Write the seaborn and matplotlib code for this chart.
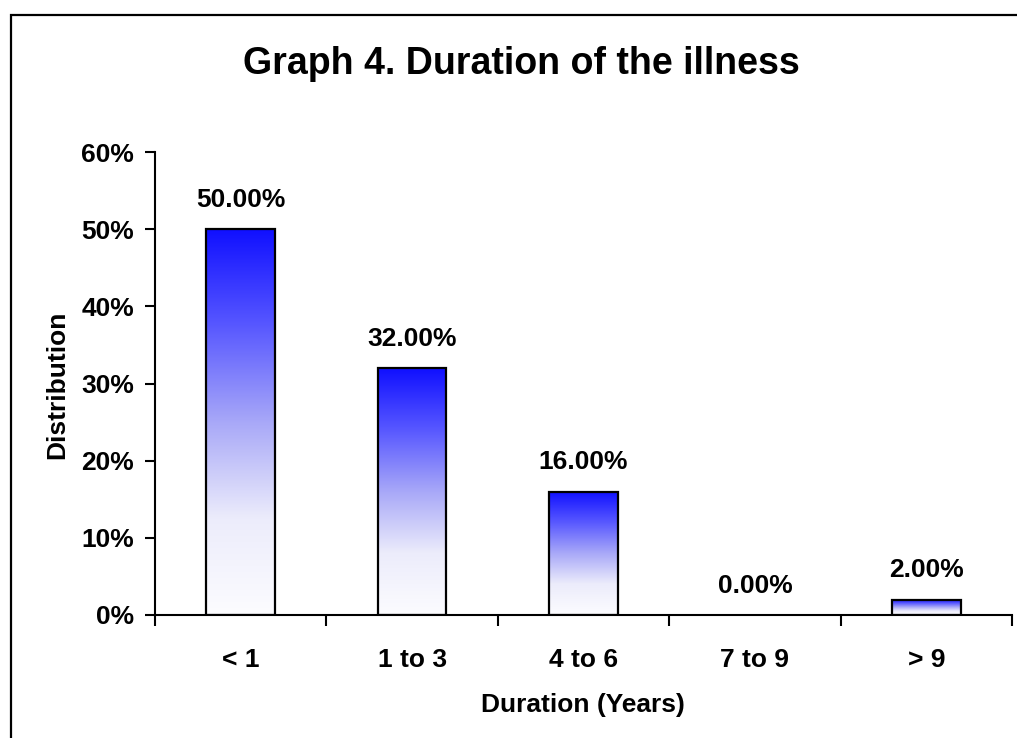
import numpy as np
import pandas as pd
import matplotlib
matplotlib.use("Agg")
import matplotlib.pyplot as plt
import seaborn as sns
from matplotlib.colors import LinearSegmentedColormap
from matplotlib.patches import Rectangle
from matplotlib.ticker import FixedLocator, FuncFormatter

# ---- data ----
categories = ["< 1", "1 to 3", "4 to 6", "7 to 9", "> 9"]
values = [0.50, 0.32, 0.16, 0.00, 0.02]
y_ticks = [0.0, 0.1, 0.2, 0.3, 0.4, 0.5, 0.6]
title = "Graph 4. Duration of the illness"
x_label = "Duration (Years)"
y_label = "Distribution"

sns.set_theme(style="white")
plt.rcParams["font.family"] = ["Liberation Sans", "DejaVu Sans"]
plt.rcParams["font.weight"] = "bold"
plt.rcParams["text.color"] = "black"
plt.rcParams["xtick.color"] = "black"
plt.rcParams["ytick.color"] = "black"
plt.rcParams["axes.labelcolor"] = "black"

W, H = 1017, 738
FS = 19
fig = plt.figure(figsize=(W / 100, H / 100), dpi=100)
ax = fig.add_axes([155 / W, 1 - 615 / H, (1012 - 155) / W, (615 - 152) / H])

df = pd.DataFrame({"cat": categories, "val": values})
sns.barplot(data=df, x="cat", y="val", ax=ax, color="white", edgecolor="black",
            linewidth=1.6, width=0.4, saturation=1)

cmap = LinearSegmentedColormap.from_list(
    "wb", [(0.0, "#fcfcff"), (0.25, "#ececfb"), (0.5, "#a8a8f8"),
           (0.75, "#5858ff"), (1.0, "#1010ff")])
grad = np.linspace(0, 1, 256).reshape(-1, 1)
for p in ax.patches:
    p.set_facecolor("none")
    p.set_zorder(3)
    x0, w, h = p.get_x(), p.get_width(), p.get_height()
    if h > 0:
        ax.imshow(grad, extent=[x0, x0 + w, 0, h], origin="lower", cmap=cmap,
                  aspect="auto", zorder=2, interpolation="bilinear")
    else:
        p.set_edgecolor("none")

ax.set_xlim(-0.5, len(categories) - 0.5)
ax.set_ylim(0, 0.6)

# data labels
for i, v in enumerate(values):
    ax.annotate(f"{v * 100:.2f}%", (i, v), xytext=(0, 21), textcoords="offset points",
                ha="center", va="center", fontsize=FS, fontweight="bold", color="black")

# spines
for s in ["top", "right"]:
    ax.spines[s].set_visible(False)
for s in ["left", "bottom"]:
    ax.spines[s].set_color("black")
    ax.spines[s].set_linewidth(1.5)
    ax.spines[s].set_zorder(4)

# y ticks
ax.yaxis.set_major_locator(FixedLocator(y_ticks))
ax.yaxis.set_major_formatter(FuncFormatter(lambda v, _: f"{v * 100:.0f}%"))
ax.tick_params(axis="y", which="major", direction="out", length=7, width=1.5,
               color="black", labelcolor="black", left=True, labelsize=FS, pad=8)
for t in ax.get_yticklabels():
    t.set_fontweight("bold")

# x ticks: marks at category boundaries, labels at centres
ax.set_xticks(np.arange(len(categories) + 1) - 0.5)
ax.set_xticklabels([""] * (len(categories) + 1))
ax.set_xticks(np.arange(len(categories)), minor=True)
ax.set_xticklabels(categories, minor=True, fontsize=FS, fontweight="bold", color="black")
ax.tick_params(axis="x", which="major", direction="out", length=8, width=1.5,
               color="black", bottom=True)
ax.tick_params(axis="x", which="minor", length=0, pad=24, bottom=True)

ax.set_xlabel("")
ax.set_ylabel("")

fig.text(521 / W, 1 - 74 / H, title, ha="center", va="baseline", fontsize=27,
         fontweight="bold", color="black")
fig.text(583 / W, 1 - 712 / H, x_label, ha="center", va="baseline", fontsize=FS,
         fontweight="bold", color="black")
fig.text(57 / W, 1 - 385 / H, y_label, ha="center", va="center", fontsize=FS,
         fontweight="bold", rotation=90, color="black")

# chart-area border (right/bottom lie outside the crop)
fig.patches.append(Rectangle((10.5 / W, -0.1), 1.2, 1.1 - 15.5 / H, transform=fig.transFigure,
                             fill=False, edgecolor="black", linewidth=1.6, clip_on=False))

fig.savefig("out.png", dpi=100)
